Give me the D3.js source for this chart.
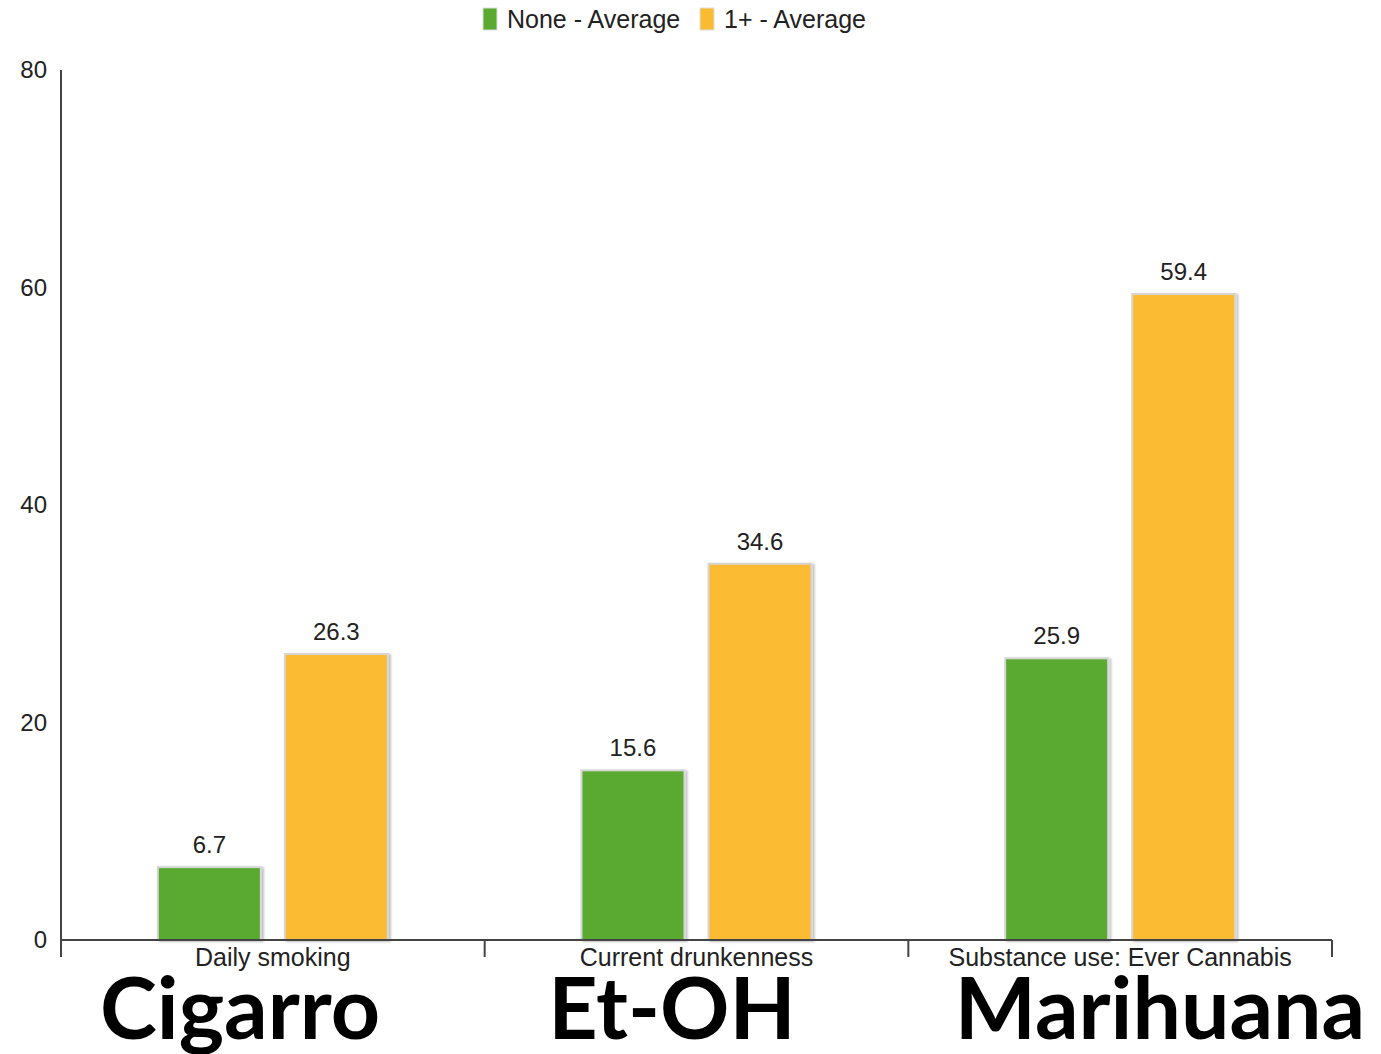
<!DOCTYPE html>
<html><head><meta charset="utf-8">
<script src="https://cdn.jsdelivr.net/npm/d3@7"></script>
<style>body{margin:0;background:#fff}svg{display:block}</style>
</head><body>
<script>
const categories = ["Daily smoking", "Current drunkenness", "Substance use: Ever Cannabis"];
const bigLabels = ["Cigarro", "Et-OH", "Marihuana"];
const seriesNames = ["None - Average", "1+ - Average"];
const noneValues = [6.7, 15.6, 25.9];
const plusValues = [26.3, 34.6, 59.4];
const yTicks = [0, 20, 40, 60, 80];
const colors = ["#5aaa31", "#fbbb31"];

const W = 1381, H = 1054;
const svg = d3.select("body").append("svg").attr("width", W).attr("height", H);
const mLeft = 61, mRight = 1332, mTop = 70, mBottom = 940;

const x = d3.scaleBand().domain(categories).range([mLeft, mRight]).paddingInner(0).paddingOuter(0);
const x1 = d3.scaleBand().domain(seriesNames).range([0, x.bandwidth()]).paddingInner(0.189).paddingOuter(0.762);
const y = d3.scaleLinear().domain([0, 80]).range([mBottom, mTop]);

const defs = svg.append("defs");
const f = defs.append("filter").attr("id","sh").attr("x","-10%").attr("y","-10%").attr("width","130%").attr("height","130%");
f.append("feDropShadow").attr("dx",2).attr("dy",1).attr("stdDeviation",1.2).attr("flood-color","#000").attr("flood-opacity",0.25);

// y axis tick labels
svg.append("g").selectAll("text").data(yTicks).join("text")
  .attr("x", 47).attr("y", d => y(d)).attr("dy", "0.35em")
  .attr("text-anchor", "end").attr("font-family", "Liberation Sans, Arial, sans-serif")
  .attr("font-size", 24).attr("fill", "#222").text(d => d);

const data = categories.map((c, i) => ({c, vals: [noneValues[i], plusValues[i]]}));

const g = svg.append("g").selectAll("g").data(data).join("g")
  .attr("transform", d => `translate(${x(d.c)},0)`);

g.selectAll("rect").data(d => d.vals.map((v, j) => ({v, s: seriesNames[j], j}))).join("rect")
  .attr("x", d => x1(d.s)).attr("y", d => y(d.v))
  .attr("width", x1.bandwidth()).attr("height", d => y(0) - y(d.v))
  .attr("fill", d => colors[d.j]).attr("stroke", "#d6d6d6").attr("stroke-width", 2)
  .attr("filter", "url(#sh)");

g.selectAll("text.val").data(d => d.vals.map((v, j) => ({v, s: seriesNames[j], j}))).join("text")
  .attr("class", "val")
  .attr("x", d => x1(d.s) + x1.bandwidth() / 2).attr("y", d => y(d.v) - 14)
  .attr("text-anchor", "middle").attr("font-family", "Liberation Sans, Arial, sans-serif")
  .attr("font-size", 24).attr("fill", "#222").text(d => d.v.toFixed(1));

// axes lines
svg.append("line").attr("x1", mLeft).attr("x2", mLeft).attr("y1", mTop).attr("y2", 957)
  .attr("stroke", "#444").attr("stroke-width", 2);
svg.append("line").attr("x1", mLeft).attr("x2", mRight).attr("y1", mBottom).attr("y2", mBottom)
  .attr("stroke", "#444").attr("stroke-width", 2);
svg.append("g").selectAll("line").data(categories.slice(1).map(c => x(c)).concat([mRight])).join("line")
  .attr("x1", d => d).attr("x2", d => d).attr("y1", mBottom).attr("y2", 957)
  .attr("stroke", "#444").attr("stroke-width", 2);

// category labels
svg.append("g").selectAll("text").data(categories).join("text")
  .attr("x", d => x(d) + x.bandwidth() / 2).attr("y", 966)
  .attr("text-anchor", "middle").attr("font-family", "Liberation Sans, Arial, sans-serif")
  .attr("font-size", 25).attr("fill", "#222").text(d => d);

// big labels
const bigX = [240, 672, 1160];
svg.append("g").selectAll("text").data(bigLabels).join("text")
  .attr("x", (d, i) => bigX[i]).attr("y", 1039)
  .attr("text-anchor", "middle").attr("font-family", "Lato, 'Open Sans', sans-serif")
  .attr("font-weight", "bold").attr("font-size", 86).attr("fill", "#000").text(d => d);

// legend
const legend = svg.append("g");
const legX = [483, 700];
seriesNames.forEach((s, i) => {
  legend.append("rect").attr("x", legX[i]).attr("y", 8).attr("width", 14).attr("height", 22)
    .attr("fill", colors[i]).attr("stroke", "#ddd").attr("stroke-width", 1);
  legend.append("text").attr("x", legX[i] + 24).attr("y", 28)
    .attr("font-family", "Liberation Sans, Arial, sans-serif").attr("font-size", 25)
    .attr("fill", "#222").text(s);
});
</script>
</body></html>
